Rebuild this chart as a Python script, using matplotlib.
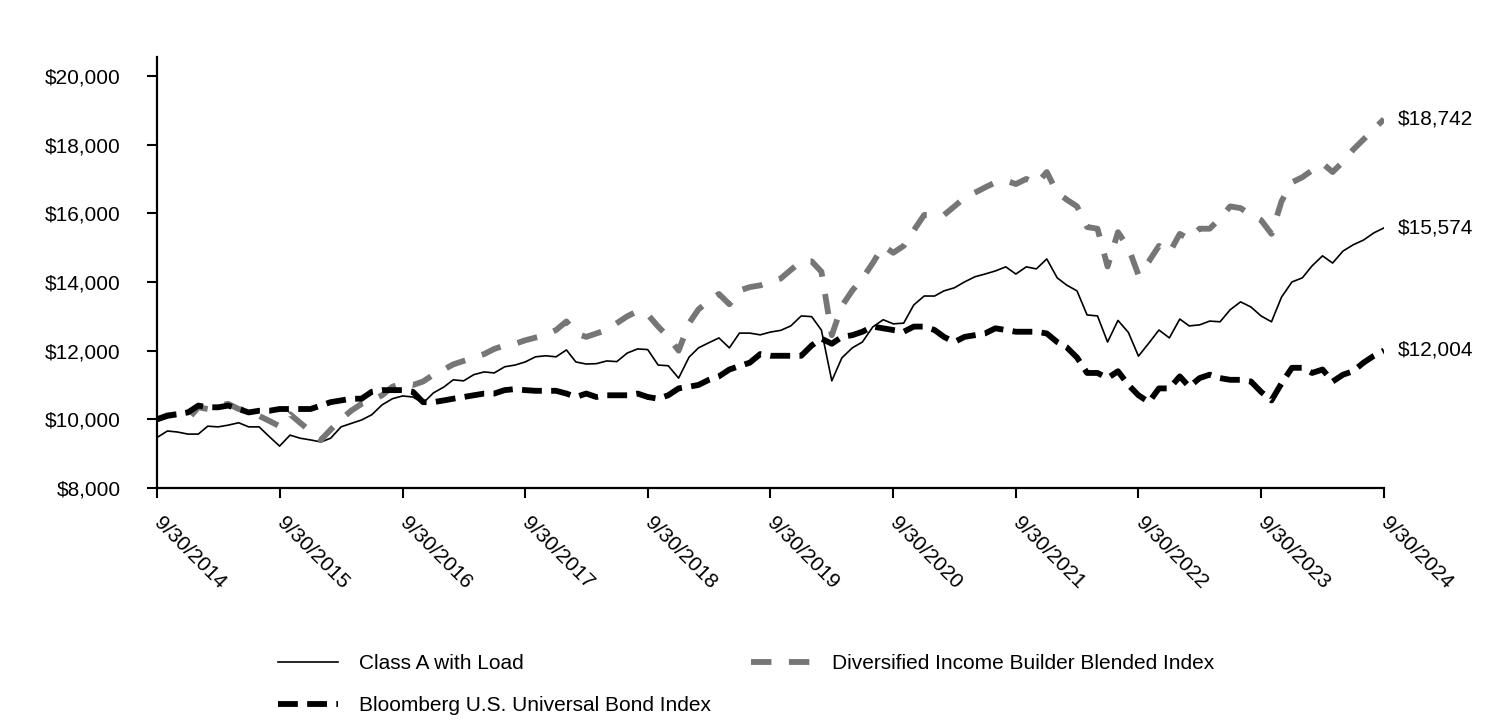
import matplotlib
matplotlib.use('Agg')
import matplotlib.pyplot as plt
import matplotlib.ticker as mticker
import pandas as pd

plt.rcParams['font.family'] = ['Liberation Sans', 'DejaVu Sans']

# monthly values, 9/30/2014 .. 9/30/2024
class_a = [9470, 9660, 9630, 9570, 9570, 9800, 9780, 9830, 9900, 9780, 9780, 9490,
           9220, 9540, 9450, 9400, 9340, 9450, 9780, 9880, 9980, 10130, 10420, 10600,
           10680, 10650, 10470, 10770, 10940, 11150, 11120, 11300, 11380, 11350, 11530, 11580,
           11670, 11820, 11850, 11820, 12020, 11670, 11610, 11620, 11700, 11680, 11930, 12050,
           12030, 11580, 11560, 11200, 11810, 12080, 12230, 12370, 12080, 12510, 12510, 12460,
           12540, 12590, 12720, 13010, 12990, 12600, 11120, 11790, 12080, 12250, 12690, 12900,
           12780, 12800, 13330, 13590, 13590, 13740, 13830, 14000, 14150, 14230, 14320, 14440,
           14230, 14440, 14380, 14670, 14120, 13910, 13740, 13040, 13010, 12250, 12880, 12530,
           11840, 12220, 12600, 12370, 12920, 12720, 12750, 12860, 12840, 13190, 13420, 13270,
           13010, 12840, 13560, 14000, 14120, 14470, 14760, 14550, 14900, 15080, 15220, 15430,
           15574]

blended = [10000, 10120, 10150, 10000, 10350, 10300, 10400, 10450, 10300, 10250, 10100, 9950,
           9800, 10150, 9900, 9650, 9400, 9700, 10000, 10250, 10450, 10550, 10700, 10950,
           11050, 11000, 11100, 11300, 11450, 11600, 11700, 11800, 11900, 12050, 12150, 12200,
           12300, 12380, 12450, 12600, 12850, 12500, 12400, 12500, 12600, 12800, 13000, 13150,
           13050, 12700, 12400, 12000, 12800, 13200, 13450, 13650, 13350, 13750, 13850, 13900,
           14000, 14100, 14350, 14600, 14600, 14300, 12450, 13300, 13750, 14100, 14550, 15050,
           14850, 15050, 15500, 15950, 15950, 15950, 16200, 16450, 16600, 16750, 16900, 16950,
           16850, 17000, 16850, 17200, 16600, 16400, 16200, 15600, 15550, 14450, 15450, 15000,
           14200, 14600, 15050, 14850, 15400, 15250, 15550, 15550, 15850, 16200, 16150, 15950,
           15800, 15400, 16350, 16900, 17050, 17250, 17450, 17200, 17500, 17850, 18150, 18450,
           18742]

bond = [10000, 10100, 10150, 10200, 10400, 10350, 10350, 10400, 10300, 10200, 10250, 10250,
        10300, 10300, 10300, 10300, 10400, 10500, 10550, 10600, 10600, 10800, 10850, 10850,
        10850, 10800, 10500, 10500, 10550, 10600, 10650, 10700, 10750, 10750, 10850, 10880,
        10850, 10830, 10830, 10830, 10750, 10650, 10750, 10650, 10700, 10700, 10700, 10750,
        10650, 10600, 10700, 10900, 10950, 11000, 11150, 11250, 11450, 11550, 11650, 11900,
        11850, 11850, 11850, 11850, 12150, 12350, 12200, 12400, 12450, 12550, 12700, 12650,
        12600, 12550, 12700, 12700, 12600, 12400, 12250, 12400, 12450, 12500, 12650, 12600,
        12550, 12550, 12550, 12500, 12250, 12100, 11800, 11350, 11350, 11200, 11400, 11000,
        10700, 10500, 10900, 10900, 11250, 10950, 11200, 11300, 11200, 11150, 11150, 11100,
        10800, 10550, 11050, 11500, 11500, 11350, 11450, 11100, 11300, 11400, 11650, 11850,
        12004]

dates = pd.date_range('2014-09-30', periods=len(class_a), freq='ME')
tick_dates = dates[::12]
tick_labels = [f'{d.month}/{d.day}/{d.year}' for d in tick_dates]

fig = plt.figure(figsize=(15.12, 7.2), dpi=100)
ax = fig.add_axes([157 / 1512, 1 - 488 / 720, (1384 - 157) / 1512, (488 - 57) / 720])

l1, = ax.plot(dates, class_a, color='black', lw=1.2, label='Class A with Load')
l2, = ax.plot(dates, blended, color='#767676', lw=4.2, dashes=(3.5, 3.0),
              label='Diversified Income Builder Blended Index')
l3, = ax.plot(dates, bond, color='black', lw=4.2, dashes=(3.4, 1.6),
              label='Bloomberg U.S. Universal Bond Index')

ax.set_xlim(dates[0], dates[-1])
ax.set_ylim(8000, 20550)
ax.set_yticks(range(8000, 20001, 2000))
ax.yaxis.set_major_formatter(mticker.FuncFormatter(lambda v, p: f'${v:,.0f}'))
ax.set_xticks(tick_dates)
ax.set_xticklabels(tick_labels, rotation=-45, ha='left', va='center', rotation_mode='anchor')

for s in ['top', 'right']:
    ax.spines[s].set_visible(False)
for s in ['left', 'bottom']:
    ax.spines[s].set_linewidth(1.6)
ax.tick_params(axis='y', length=7, width=1.5, labelsize=15, pad=19)
ax.tick_params(axis='x', length=7, width=1.5, labelsize=15, pad=16)

# end-of-series value labels
for series in [blended, class_a, bond]:
    ax.annotate(f'${series[-1]:,.0f}', xy=(dates[-1], series[-1]), xytext=(10, 0),
                textcoords='offset points', va='center', ha='left', fontsize=15,
                annotation_clip=False)

fig.legend(handles=[l1, l3, l2], ncol=2, loc='upper left',
           bbox_to_anchor=(278 / 1512, 1 - 654 / 720), frameon=False, fontsize=15,
           handlelength=2.9, handletextpad=1.0, columnspacing=1.9, labelspacing=1.1,
           borderpad=0, borderaxespad=0)

fig.savefig('out.png', dpi=100)
